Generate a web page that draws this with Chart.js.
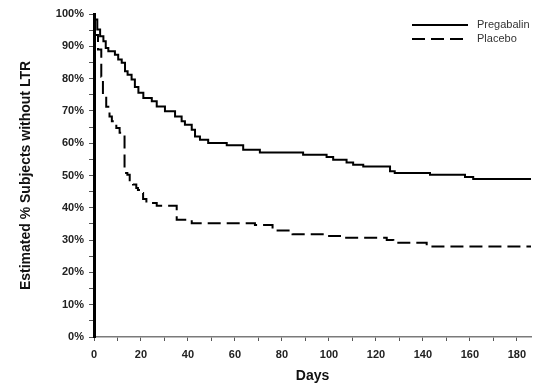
<!DOCTYPE html>
<html lang="en">
<head>
  <meta charset="UTF-8">
  <title>Estimated % Subjects without LTR</title>
  <script src="https://cdn.jsdelivr.net/npm/chart.js@4"></script>
  <style>
    html, body {
      margin: 0;
      padding: 0;
      background: #fff;
    }
    .chart-wrap {
      position: relative;
      width: 550px;
      height: 386px;
    }
  </style>
</head>
<body>
  <div class="chart-wrap">
    <canvas id="kmChart" width="550" height="386"></canvas>
  </div>

  <script>
    // Kaplan-Meier steps (day of step, % after the step)
    const pregabalinDays = [0, 1.4, 2.6, 4, 5, 6.1, 8.9, 10.3, 11.8, 13.2, 14.3, 16, 17.4, 18.9, 21, 24.6, 26.7, 30.2, 34.5, 37.3, 38.7, 41.6, 43, 45.1, 48.6, 56.5, 63.5, 70.6, 89, 99, 101.8, 107.5, 110.3, 114.6, 126, 128, 143, 157.9, 161.4, 174.2, 186];
    const pregabalinPct  = [100, 98.3, 95.2, 93.1, 91.6, 89.5, 88.5, 87.4, 85.9, 84.9, 82.3, 81.2, 79.7, 77.4, 75.6, 74, 73, 71.4, 69.9, 68.3, 66.8, 65.7, 64.2, 62.1, 61.1, 60.1, 59.4, 58, 57.1, 56.4, 55.7, 54.9, 54, 53.3, 52.8, 51.3, 50.8, 50.2, 49.5, 48.9, 48.9];

    const placeboDays = [0, 1.7, 3.1, 3.8, 5.2, 6.6, 7.6, 9.5, 10.9, 13, 14.2, 15.2, 16.6, 18, 18.7, 20, 20.9, 22.3, 26.7, 35.2, 41.6, 68.5, 76, 84.5, 98, 104.7, 124.6, 127.4, 141.6, 179, 186];
    const placeboPct  = [100, 93.5, 89, 80.6, 75, 71.3, 68.3, 66.8, 64.7, 63.2, 50.8, 50.2, 48.5, 47.2, 46.1, 45.5, 44.6, 42.7, 41.5, 40.6, 36.3, 35.2, 34.7, 33, 31.8, 31.3, 30.7, 30, 29.2, 28, 28];

    const xMajorTicks = [0, 20, 40, 60, 80, 100, 120, 140, 160, 180];
    const xMinorTicks = [10, 30, 50, 70, 90, 110, 130, 150, 170];
    const yMajorTicks = [0, 10, 20, 30, 40, 50, 60, 70, 80, 90, 100];
    const yMinorTicks = [5, 15, 25, 35, 45, 55, 65, 75, 85, 95];

    const FONT = '"Liberation Sans", Arial, Helvetica, sans-serif';

    function toPoints(xs, ys) {
      return xs.map((x, i) => ({ x: x, y: ys[i] }));
    }

    function setTicks(major, minor) {
      return function(scale) {
        scale.ticks = major.concat(minor).sort((a, b) => a - b).map(v => ({ value: v }));
      };
    }

    // legend drawn inside the plot, top-right, with line samples
    const lineLegend = {
      id: 'lineLegend',
      afterDraw(chart) {
        const ctx = chart.ctx;
        const area = chart.chartArea;
        const x0 = area.right - 119;
        ctx.save();
        chart.data.datasets.forEach((ds, i) => {
          const y = area.top + 11 + i * 14;
          ctx.beginPath();
          ctx.setLineDash(ds.borderDash || []);
          ctx.lineWidth = ds.borderWidth;
          ctx.strokeStyle = ds.borderColor;
          ctx.moveTo(x0, y);
          ctx.lineTo(x0 + 56, y);
          ctx.stroke();
          ctx.setLineDash([]);
          ctx.fillStyle = '#333';
          ctx.font = '11px ' + FONT;
          ctx.textBaseline = 'middle';
          ctx.textAlign = 'left';
          ctx.fillText(ds.label, x0 + 65, y);
        });
        ctx.restore();
      }
    };

    const ctx = document.getElementById('kmChart').getContext('2d');

    new Chart(ctx, {
      type: 'line',
      data: {
        datasets: [
          {
            label: 'Pregabalin',
            data: toPoints(pregabalinDays, pregabalinPct),
            borderColor: '#000',
            borderWidth: 2,
            stepped: 'after',
            pointRadius: 0,
            fill: false
          },
          {
            label: 'Placebo',
            data: toPoints(placeboDays, placeboPct),
            borderColor: '#000',
            borderWidth: 2,
            borderDash: [13, 6],
            stepped: 'after',
            pointRadius: 0,
            fill: false
          }
        ]
      },
      options: {
        responsive: false,
        animation: false,
        devicePixelRatio: 1,
        layout: {
          padding: { left: 10, right: 19, top: 14, bottom: 0 }
        },
        plugins: {
          legend: { display: false },
          tooltip: { enabled: false }
        },
        scales: {
          x: {
            type: 'linear',
            min: 0,
            max: 186,
            afterBuildTicks: setTicks(xMajorTicks, xMinorTicks),
            afterFit: function(scale) { scale.height = 49; },
            grid: {
              drawOnChartArea: false,
              drawTicks: true,
              tickLength: 4,
              tickColor: '#555',
              tickWidth: 1
            },
            border: { display: true, color: '#7a7a7a', width: 1.5 },
            ticks: {
              autoSkip: false,
              maxRotation: 0,
              padding: 7,
              color: '#222',
              font: { family: FONT, size: 11, weight: 'bold' },
              callback: v => xMajorTicks.includes(v) ? String(v) : ''
            },
            title: {
              display: true,
              text: 'Days',
              color: '#111',
              font: { family: FONT, size: 14, weight: 'bold' },
              padding: { top: 0, bottom: 1 }
            }
          },
          y: {
            min: 0,
            max: 100,
            afterBuildTicks: setTicks(yMajorTicks, yMinorTicks),
            afterFit: function(scale) { scale.width = 84; },
            grid: {
              drawOnChartArea: false,
              drawTicks: true,
              tickLength: 5,
              tickColor: '#555',
              tickWidth: 1
            },
            border: { display: true, color: '#000', width: 3 },
            ticks: {
              autoSkip: false,
              padding: 5,
              color: '#222',
              font: { family: FONT, size: 11, weight: 'bold' },
              callback: v => yMajorTicks.includes(v) ? v + '%' : ''
            },
            title: {
              display: true,
              text: 'Estimated % Subjects without LTR',
              color: '#111',
              font: { family: FONT, size: 14, weight: 'bold' },
              padding: { top: 7.5, bottom: 0 }
            }
          }
        }
      },
      plugins: [lineLegend]
    });
  </script>
</body>
</html>
